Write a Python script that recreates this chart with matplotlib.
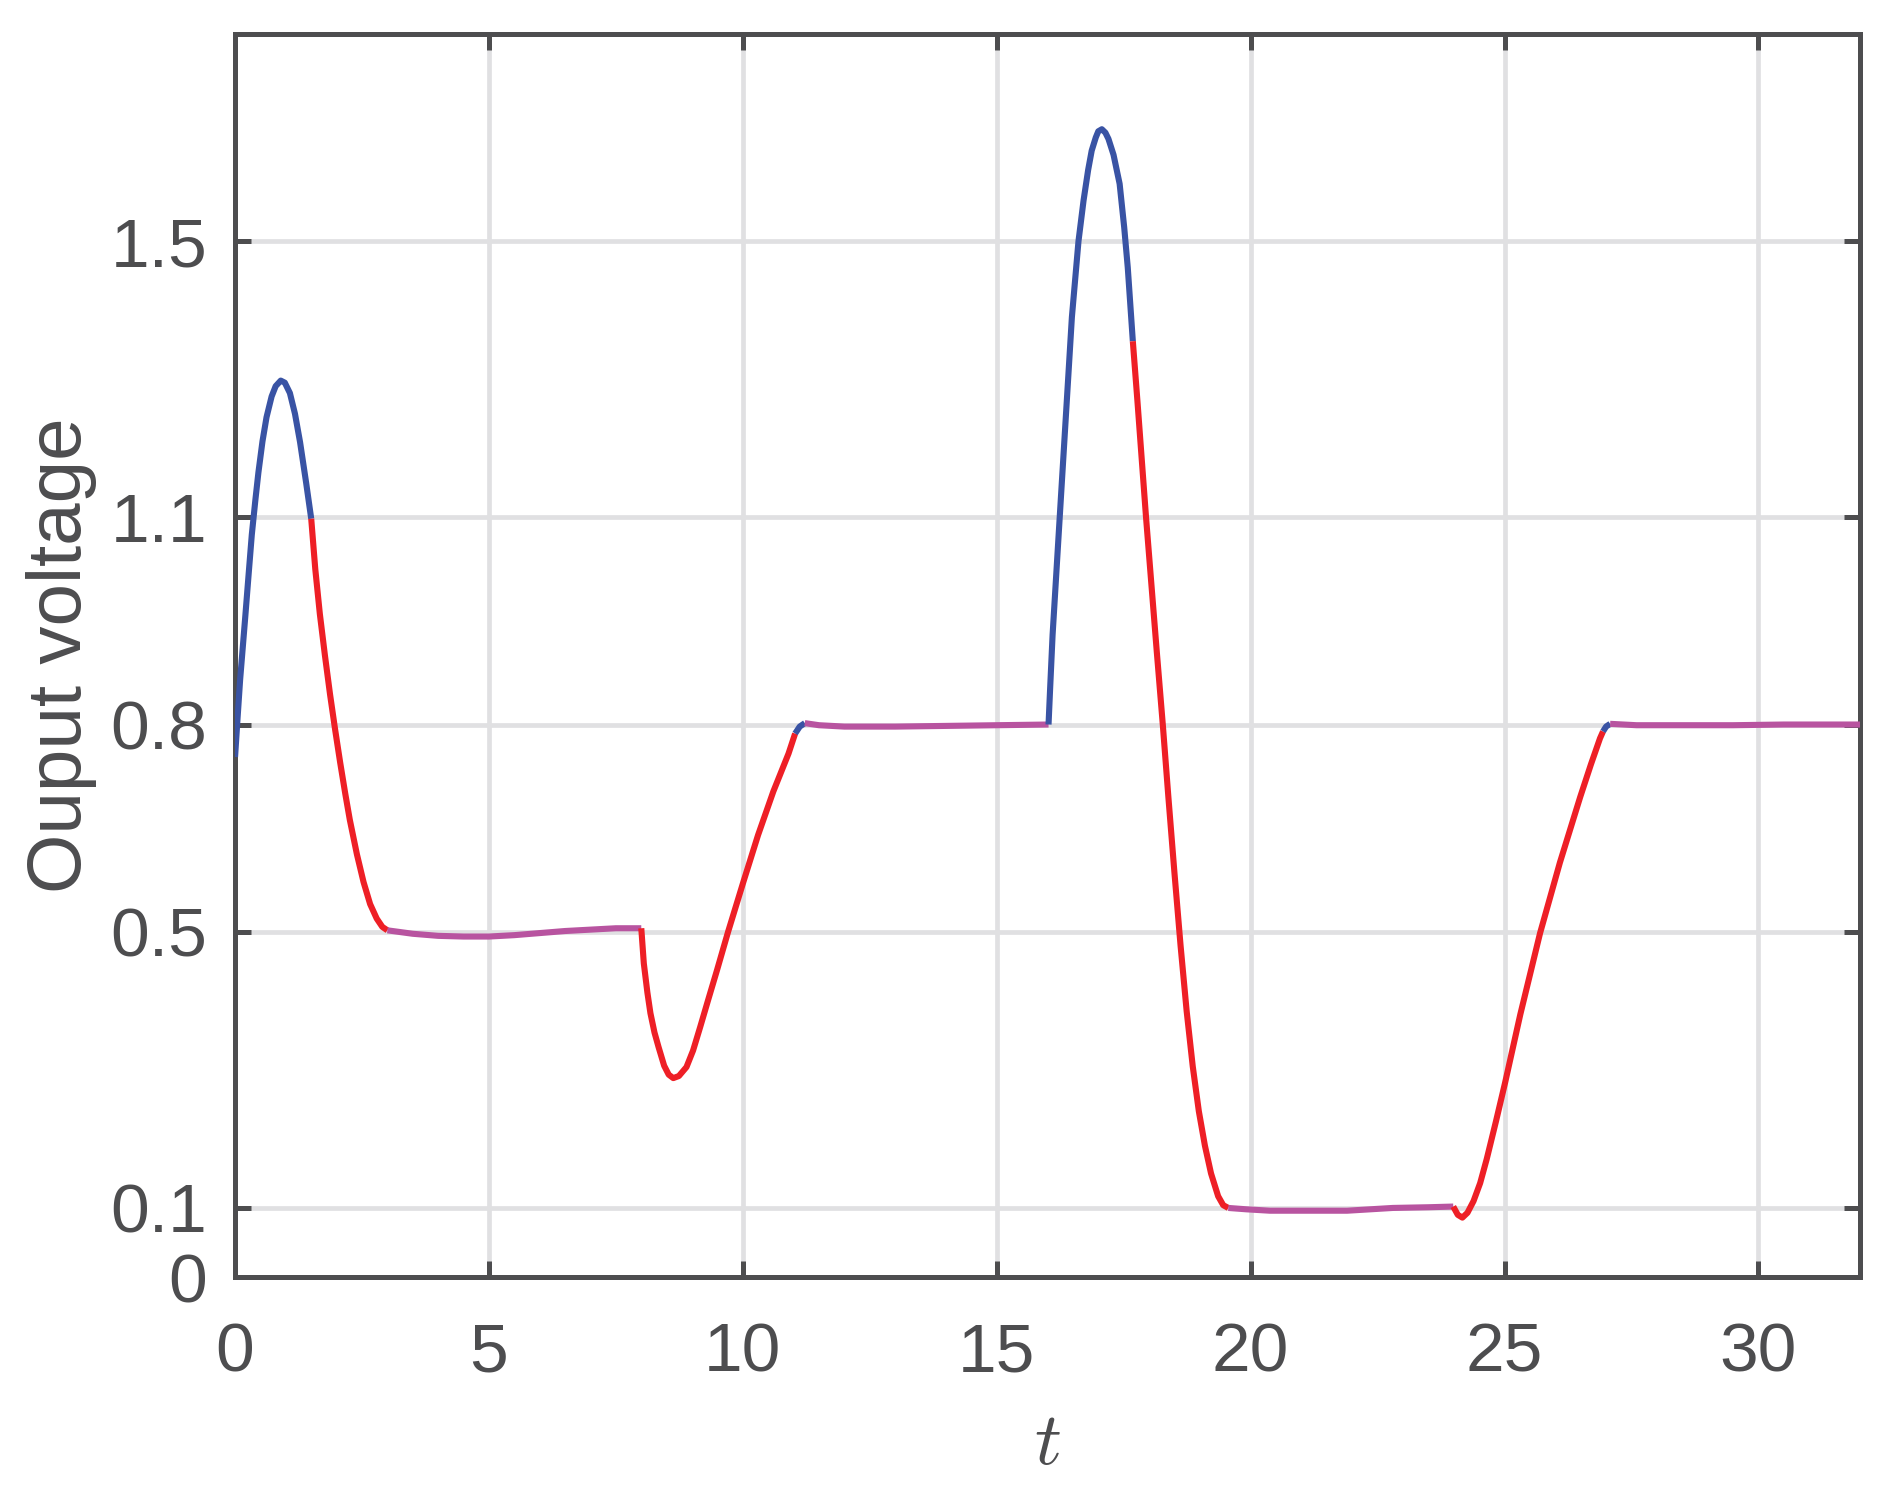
import matplotlib.pyplot as plt
import numpy as np

# segments of the output voltage trace, each drawn in its own colour
t_blue1 = [0.0, 0.05, 0.10, 0.20, 0.27, 0.33, 0.40, 0.46, 0.54, 0.62, 0.72, 0.80, 0.90,
           0.98, 1.08, 1.18, 1.28, 1.40, 1.50]
v_blue1 = [0.753, 0.810, 0.865, 0.955, 1.020, 1.075, 1.125, 1.165, 1.210, 1.245, 1.275, 1.290, 1.298,
           1.295, 1.280, 1.250, 1.209, 1.150, 1.098]

t_red1 = [1.50, 1.58, 1.67, 1.77, 1.87, 1.97, 2.07, 2.17, 2.26, 2.40, 2.53, 2.66, 2.79, 2.90, 3.00]
v_red1 = [1.098, 1.025, 0.960, 0.900, 0.844, 0.793, 0.745, 0.700, 0.662, 0.612, 0.572, 0.540, 0.519, 0.507, 0.502]

t_pur1 = [3.00, 3.5, 4.0, 4.5, 5.0, 5.5, 6.0, 6.5, 7.0, 7.5, 8.0]
v_pur1 = [0.502, 0.497, 0.494, 0.493, 0.493, 0.495, 0.498, 0.501, 0.503, 0.505, 0.505]

t_red2 = [8.0, 8.05, 8.12, 8.18, 8.26, 8.34, 8.45, 8.54, 8.63, 8.74, 8.89, 9.02, 9.16, 9.32, 9.49,
          9.71, 10.01, 10.3, 10.6, 10.9, 11.03]
v_red2 = [0.505, 0.454, 0.412, 0.382, 0.354, 0.333, 0.306, 0.293, 0.288, 0.291, 0.304, 0.328, 0.362, 0.402, 0.444,
          0.500, 0.572, 0.640, 0.703, 0.758, 0.787]

t_blue2 = [11.03, 11.12, 11.22]
v_blue2 = [0.787, 0.797, 0.802]

t_pur2 = [11.22, 11.5, 12.0, 13.0, 14.0, 15.0, 16.02]
v_pur2 = [0.802, 0.799, 0.797, 0.797, 0.798, 0.799, 0.800]

t_blue3 = [16.02, 16.05, 16.10, 16.24, 16.38, 16.48, 16.61, 16.71, 16.80, 16.87, 16.95, 17.00, 17.07,
           17.14, 17.20, 17.30, 17.42, 17.51, 17.58, 17.68]
v_blue3 = [0.800, 0.850, 0.930, 1.100, 1.269, 1.390, 1.500, 1.559, 1.603, 1.631, 1.650, 1.659, 1.662,
           1.657, 1.648, 1.625, 1.583, 1.520, 1.462, 1.355]

t_red3 = [17.68, 17.77, 17.94, 18.15, 18.27, 18.38, 18.50, 18.62, 18.74, 18.86, 18.98, 19.10, 19.22,
          19.36, 19.46, 19.56]
v_red3 = [1.355, 1.269, 1.100, 0.907, 0.800, 0.695, 0.585, 0.480, 0.385, 0.305, 0.240, 0.190, 0.150,
          0.117, 0.104, 0.100]

t_pur3 = [19.56, 19.92, 20.38, 21.0, 21.9, 22.8, 23.5, 23.99]
v_pur3 = [0.100, 0.098, 0.096, 0.096, 0.096, 0.100, 0.101, 0.102]

t_red4 = [23.99, 24.08, 24.17, 24.27, 24.39, 24.52, 24.65, 24.83, 25.01, 25.31, 25.70, 26.09, 26.49,
          26.70, 26.88, 26.94]
v_red4 = [0.102, 0.090, 0.086, 0.093, 0.110, 0.136, 0.171, 0.225, 0.281, 0.380, 0.498, 0.600, 0.695,
          0.742, 0.780, 0.790]

t_blue4 = [26.94, 27.0, 27.08]
v_blue4 = [0.790, 0.797, 0.801]

t_pur4 = [27.08, 27.6, 28.45, 29.5, 30.5, 32.0]
v_pur4 = [0.801, 0.799, 0.799, 0.799, 0.800, 0.800]

x_ticks = [0, 5, 10, 15, 20, 25, 30]
y_ticks = [0, 0.1, 0.5, 0.8, 1.1, 1.5]
y_ticklabels = ['0', '0.1', '0.5', '0.8', '1.1', '1.5']

blue = '#3953a4'
red = '#ee1f26'
purple = '#b854a0'
dark = '#4d4d4f'

plt.rcParams['font.family'] = ['Liberation Sans', 'DejaVu Sans']
plt.rcParams['mathtext.fontset'] = 'cm'

fig = plt.figure(figsize=(9.455, 7.44), dpi=200)
ax = fig.add_axes([0.1243, 0.1418, 0.8593, 0.8354])

segments = [
    (t_blue1, v_blue1, blue), (t_red1, v_red1, red), (t_pur1, v_pur1, purple),
    (t_red2, v_red2, red), (t_blue2, v_blue2, blue), (t_pur2, v_pur2, purple),
    (t_blue3, v_blue3, blue), (t_red3, v_red3, red), (t_pur3, v_pur3, purple),
    (t_red4, v_red4, red), (t_blue4, v_blue4, blue), (t_pur4, v_pur4, purple),
]
for t, v, c in segments:
    ax.plot(t, v, color=c, lw=2.2, solid_capstyle='butt', solid_joinstyle='round', zorder=3)

ax.set_xlim(0, 32)
ax.set_ylim(0, 1.8)
ax.set_xticks(x_ticks)
ax.set_yticks(y_ticks)
ax.set_yticklabels(y_ticklabels)
ax.grid(True, color='#e0e0e2', lw=1.7)
ax.set_axisbelow(True)

for s in ax.spines.values():
    s.set_color(dark)
    s.set_linewidth(1.8)
ax.tick_params(direction='in', length=5.8, width=1.8, color=dark,
               labelcolor=dark, labelsize=25, top=True, right=True)
ax.tick_params(axis='x', pad=16)
ax.tick_params(axis='y', pad=10)

ax.set_xlabel('$t$', fontsize=27, color=dark, labelpad=9)
ax.set_ylabel('Ouput voltage', fontsize=27.5, color=dark, labelpad=5)

fig.savefig('out.png', dpi=200)
